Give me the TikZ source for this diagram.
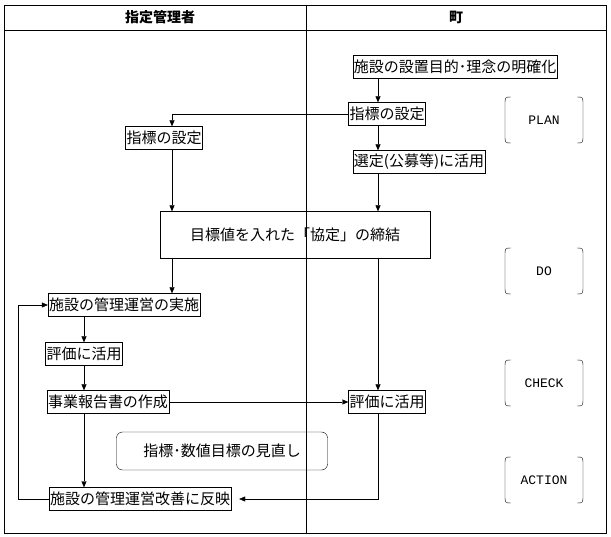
\documentclass[tikz,border=0pt]{standalone}
\usepackage{fontspec}
\setmainfont{Noto Sans CJK JP}
\newfontfamily\monofont{Liberation Mono}
\usetikzlibrary{arrows.meta, positioning}
\tikzset{
  box/.style={draw, inner xsep=1pt, inner ysep=0pt, minimum height=23pt, font=\fontsize{15}{15}\selectfont},
  arr/.style={-{Triangle[length=6pt,width=5pt]}},
  phase/.style={font=\monofont\fontsize{13}{13}\selectfont},
}
\begin{document}
\begin{tikzpicture}[x=1pt,y=-1pt]
  \useasboundingbox (0,0) rectangle (611,537);
  % Frame and lanes
  \draw (4,5) rectangle (606,533);
  \draw (4,30) -- (606,30);
  \draw (306,5) -- (306,533);
  \node[font=\bfseries\fontsize{14}{14}\selectfont] (hdL) at (160,17) {指定管理者};
  \node[font=\bfseries\fontsize{14}{14}\selectfont] (hdR) at (456,17) {町};

  % Town lane
  \node[box] (aim) at (455,67) {施設の設置目的･理念の明確化};
  \node[box] (idxR) at (387,114) {指標の設定};
  \node[box] (sel) at (419,162) {選定(公募等)に活用};
  \node[box] (evalR) at (387,402) {評価に活用};

  % Manager lane
  \node[box] (idxL) at (164,138) {指標の設定};
  \node[box, minimum width=270pt, minimum height=47pt] (agr) at (295,235) {目標値を入れた「協定」の締結};
  \node[box] (run) at (124,305) {施設の管理運営の実施};
  \node[box] (evalL) at (84,354) {評価に活用};
  \node[box] (rep) at (108,402) {事業報告書の作成};
  \node[draw, rounded corners=6pt, minimum width=211pt, minimum height=38pt, font=\fontsize{15}{15}\selectfont] (rev) at (222,451) {指標･数値目標の見直し};
  \node[box] (refl) at (140,499) {施設の管理運営改善に反映};

  % Phase labels
  \foreach \name/\y in {PLAN/120, DO/271, CHECK/383, ACTION/480} {
    \node[phase] (ph\name) at (544,\y) {\name};
    \draw (511,\y-23) .. controls (505,\y-23) .. (505,\y-15) -- (505,\y+15) .. controls (505,\y+23) .. (511,\y+23);
    \draw (577,\y-23) .. controls (583,\y-23) .. (583,\y-15) -- (583,\y+15) .. controls (583,\y+23) .. (577,\y+23);
  }

  % Connectors
  \coordinate (c1) at (172,114);
  \coordinate (c2) at (378,499);
  \coordinate (c3) at (18,499);
  \coordinate (c4) at (18,305);
  \draw[arr] (aim.south -| 378,0) -- (idxR.north -| 378,0);
  \draw[arr] (idxR.south -| 378,0) -- (sel.north -| 378,0);
  \draw[arr] (idxR.west) -- (c1) -- (idxL.north -| c1);
  \draw[arr] (idxL.south -| c1) -- (agr.north -| c1);
  \draw[arr] (sel.south -| 378,0) -- (agr.north -| 378,0);
  \draw[arr] (agr.south -| c1) -- (run.north -| c1);
  \draw[arr] (agr.south -| 378,0) -- (evalR.north -| 378,0);
  \draw[arr] (run.south -| 84,0) -- (evalL.north -| 84,0);
  \draw[arr] (evalL.south -| 84,0) -- (rep.north -| 84,0);
  \draw[arr] (rep.east) -- (evalR.west);
  \draw[arr] (rep.south -| 84,0) -- (refl.north -| 84,0);
  \draw[arr] (evalR.south -| c2) -- (c2) -- ([xshift=8pt]refl.east);
  \draw[arr] (refl.west) -- (c3) -- (c4) -- (run.west);
\end{tikzpicture}
\end{document}
